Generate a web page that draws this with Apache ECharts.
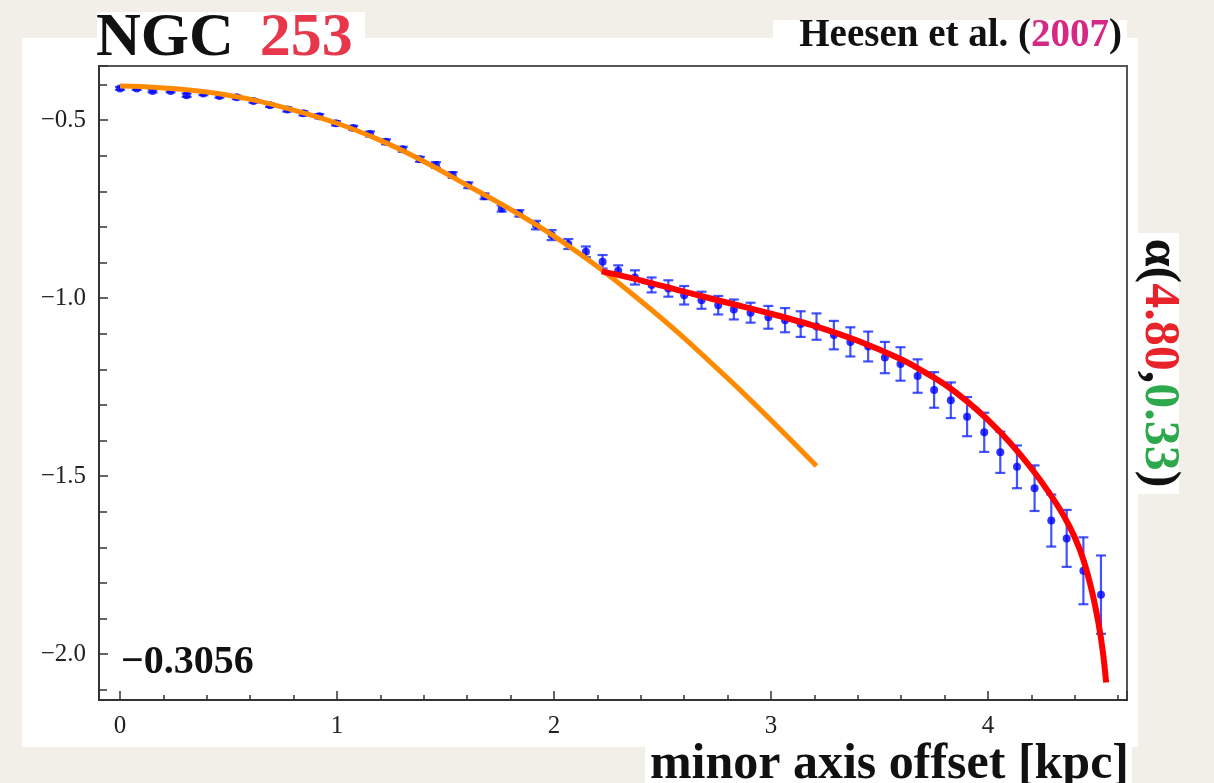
<!DOCTYPE html>
<html><head><meta charset="utf-8">
<script src="https://cdn.jsdelivr.net/npm/echarts@6/dist/echarts.min.js"></script>
<style>html,body{margin:0;padding:0;background:#f2efe9;} #c{width:1214px;height:783px;}</style>
</head><body><div id="c"></div>
<script>
// minor axis offset [kpc] of each measured point
const offsetKpc = [0.000,0.077,0.150,0.233,0.307,0.384,0.458,0.538,0.615,0.691,
  0.771,0.845,0.918,0.995,1.075,1.152,1.226,1.303,1.382,1.456,
  1.533,1.605,1.680,1.759,1.840,1.917,1.989,2.066,2.147,2.224,
  2.296,2.373,2.450,2.527,2.600,2.680,2.757,2.829,2.906,2.988,
  3.065,3.137,3.210,3.290,3.366,3.448,3.525,3.597,3.676,3.752,
  3.829,3.904,3.983,4.057,4.134,4.215,4.292,4.363,4.440,4.521];
// spectral index values
const alphaVals = [-0.411,-0.411,-0.418,-0.418,-0.430,-0.425,-0.432,-0.436,-0.446,-0.458,
  -0.470,-0.481,-0.489,-0.509,-0.522,-0.539,-0.561,-0.582,-0.610,-0.626,
  -0.654,-0.683,-0.714,-0.748,-0.762,-0.795,-0.823,-0.848,-0.870,-0.898,
  -0.923,-0.942,-0.963,-0.973,-0.992,-1.006,-1.020,-1.032,-1.041,-1.054,
  -1.062,-1.073,-1.080,-1.104,-1.123,-1.136,-1.167,-1.185,-1.219,-1.258,
  -1.287,-1.333,-1.377,-1.433,-1.474,-1.534,-1.625,-1.675,-1.766,-1.833];
// half-length of error bars
const alphaErr = [0.004,0.004,0.004,0.004,0.005,0.005,0.005,0.005,0.005,0.005,
  0.006,0.006,0.006,0.006,0.006,0.007,0.007,0.007,0.007,0.008,
  0.008,0.008,0.008,0.009,0.009,0.012,0.014,0.014,0.015,0.019,
  0.015,0.020,0.021,0.023,0.026,0.024,0.026,0.028,0.028,0.032,
  0.034,0.036,0.037,0.040,0.041,0.042,0.044,0.047,0.047,0.050,
  0.050,0.055,0.055,0.058,0.060,0.064,0.073,0.080,0.094,0.110];
// orange fit curve (inner part)
const orangeX = [0, 0.4, 0.8, 1.2, 1.6, 2.0, 2.4, 2.8, 3.21];
const orangeY = [-0.404, -0.421, -0.472, -0.557, -0.683, -0.826, -1.008, -1.225, -1.472];
// red fit curve (outer part)
const redX = [2.22, 2.40, 2.60, 2.80, 3.00, 3.20, 3.40, 3.60, 3.70, 3.80, 3.90, 4.00, 4.10, 4.20, 4.28, 4.35, 4.40, 4.44, 4.48, 4.51, 4.53, 4.545];
const redY = [-0.925, -0.950, -0.982, -1.013, -1.044, -1.078, -1.120, -1.172, -1.205, -1.242, -1.288, -1.342, -1.405, -1.478, -1.545, -1.612, -1.672, -1.735, -1.825, -1.915, -1.995, -2.080];

const chart = echarts.init(document.getElementById('c'), null, {renderer: 'canvas'});
const pts = offsetKpc.map((x, i) => [x, alphaVals[i]]);
const errs = offsetKpc.map((x, i) => [x, alphaVals[i], alphaErr[i]]);
const orange = orangeX.map((x, i) => [x, orangeY[i]]);
const red = redX.map((x, i) => [x, redY[i]]);
const SERIF = "'Liberation Serif', 'DejaVu Serif', serif";
const fmtNum = v => String(v).replace('-', '\u2212');

chart.setOption({
  backgroundColor: '#f2efe9',
  animation: false,
  grid: {left: 99, right: 87, top: 66, bottom: 83, show: true, borderColor: '#555', borderWidth: 2, backgroundColor: '#fff', outerBoundsMode: 'none'},
  xAxis: {
    type: 'value', min: -0.097, max: 4.641, splitNumber: 5,
    axisLine: {show: true, onZero: false, lineStyle: {color: '#333', width: 2}},
    axisTick: {show: true, inside: true, length: 9, lineStyle: {color: '#333', width: 1.5}},
    minorTick: {show: true, splitNumber: 5, length: 5, lineStyle: {color: '#333', width: 1.5}},
    splitLine: {show: false},
    axisLabel: {showMinLabel: false, showMaxLabel: false, margin: 14, color: '#222', fontFamily: SERIF, fontSize: 25,
      formatter: v => Math.abs(v - Math.round(v)) < 1e-6 ? fmtNum(Math.round(v)) : ''}
  },
  yAxis: {
    type: 'value', min: -2.129, max: -0.348, splitNumber: 4,
    axisLine: {show: true, onZero: false, lineStyle: {color: '#333', width: 2}},
    axisTick: {show: true, inside: true, length: 9, lineStyle: {color: '#333', width: 1.5}},
    minorTick: {show: true, splitNumber: 5, length: 8, lineStyle: {color: '#333', width: 1.5}},
    splitLine: {show: false},
    axisLabel: {showMinLabel: false, showMaxLabel: false, margin: 13, color: '#222', fontFamily: SERIF, fontSize: 25,
      formatter: v => Math.abs(v * 2 - Math.round(v * 2)) < 1e-6 ? fmtNum(v.toFixed(1)) : ''}
  },
  graphic: [
    {type: 'rect', z: -100, shape: {x: 22, y: 38, width: 1116, height: 709}, style: {fill: '#fff'}},
    {type: 'rect', z: -100, shape: {x: 97, y: 12, width: 268, height: 30}, style: {fill: '#fff'}},
    {type: 'rect', z: -100, shape: {x: 773, y: 20, width: 354, height: 22}, style: {fill: '#fff'}},
    {type: 'rect', z: -100, shape: {x: 1136, y: 233, width: 43, height: 261}, style: {fill: '#fff'}},
    {type: 'rect', z: -100, shape: {x: 645, y: 745, width: 487, height: 38}, style: {fill: '#fff'}},
    {type: 'text', z: 100, x: 96, y: 39, style: {
      text: '{a|NGC}{b|253}', textVerticalAlign: 'middle',
      rich: {a: {fontFamily: SERIF, fontWeight: 'bold', fontSize: 62, fill: '#111'},
             b: {fontFamily: SERIF, fontWeight: 'bold', fontSize: 62, fill: '#e8364b', padding: [0, 0, 0, 26]}}}},
    {type: 'text', z: 100, x: 1122, y: 36, style: {
      text: '{a|Heesen et al. (}{b|2007}{a|)}', textAlign: 'right', textVerticalAlign: 'middle',
      rich: {a: {fontFamily: SERIF, fontWeight: 'bold', fontSize: 39, fill: '#111'},
             b: {fontFamily: SERIF, fontWeight: 'bold', fontSize: 39, fill: '#d42a86'}}}},
    {type: 'text', z: 100, x: 1159, y: 363, rotation: -Math.PI / 2, style: {
      text: '{a|\u03b1(}{r|4.80}{a|,}{g|0.33}{a|)}', textAlign: 'center', textVerticalAlign: 'middle',
      rich: {a: {fontFamily: SERIF, fontWeight: 'bold', fontSize: 50, fill: '#111'},
             r: {fontFamily: SERIF, fontWeight: 'bold', fontSize: 50, fill: '#e8232a'},
             g: {fontFamily: SERIF, fontWeight: 'bold', fontSize: 50, fill: '#2ea84c'}}}},
    {type: 'text', z: 100, x: 1129, y: 765, style: {
      text: 'minor axis offset [kpc]', textAlign: 'right', textVerticalAlign: 'middle',
      fontFamily: SERIF, fontWeight: 'bold', fontSize: 50, fill: '#111'}},
    {type: 'text', z: 100, x: 121, y: 663, style: {
      text: '\u22120.3056', textVerticalAlign: 'middle',
      fontFamily: SERIF, fontWeight: 'bold', fontSize: 40, fill: '#111'}}
  ],
  series: [
    {type: 'custom', z: 3, data: errs, renderItem: (params, api) => {
      const x = api.value(0), y = api.value(1), e = api.value(2);
      const t = api.coord([x, y + e]), b = api.coord([x, y - e]);
      const hw = 5;
      const st = {stroke: 'rgba(20,40,255,0.8)', lineWidth: 2.2, fill: null};
      return {type: 'group', children: [
        {type: 'line', shape: {x1: t[0], y1: t[1], x2: b[0], y2: b[1]}, style: st},
        {type: 'line', shape: {x1: t[0] - hw, y1: t[1], x2: t[0] + hw, y2: t[1]}, style: st},
        {type: 'line', shape: {x1: b[0] - hw, y1: b[1], x2: b[0] + hw, y2: b[1]}, style: st}
      ]};
    }},
    {type: 'scatter', z: 4, data: pts, symbol: 'circle', symbolSize: 8, itemStyle: {color: '#0000ff'}},
    {type: 'line', z: 5, data: orange, smooth: 0.4, symbol: 'none', lineStyle: {color: '#ff8a00', width: 5}},
    {type: 'line', z: 5, data: red, smooth: 0.3, symbol: 'none', lineStyle: {color: '#ff0000', width: 6}}
  ]
});
</script></body></html>
